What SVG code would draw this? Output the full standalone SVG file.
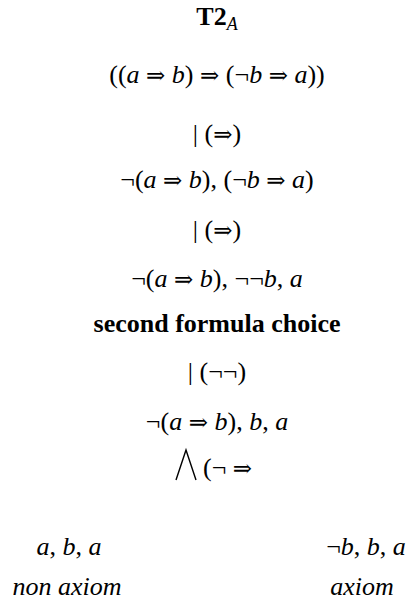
<svg xmlns="http://www.w3.org/2000/svg" width="409" height="606" viewBox="0 0 409 606">
<style>
text{font-family:"Liberation Serif","Times New Roman",serif;font-size:26px;fill:#000}
.c{text-anchor:middle}
.i{font-style:italic}
.b{font-weight:bold}
.ar{font-family:"DejaVu Serif",serif;font-size:23px}
</style>
<rect width="409" height="606" fill="#fff"/>
<g id="title"><text class="c b" x="217" y="25">T2<tspan class="i" font-weight="normal" font-size="18" dy="5">A</tspan></text></g>
<g id="n1"><text class="c" x="217" y="83">((<tspan class="i">a</tspan> <tspan class="ar">⇒</tspan> <tspan class="i">b</tspan>) <tspan class="ar">⇒</tspan> (¬<tspan class="i">b</tspan> <tspan class="ar">⇒</tspan> <tspan class="i">a</tspan>))</text></g>
<g id="connectors">
<text class="c" x="217" y="142">| (<tspan class="ar">⇒</tspan>)</text>
<text class="c" x="217" y="238">| (<tspan class="ar">⇒</tspan>)</text>
<text class="c" x="217" y="380">| (¬¬)</text>
<path d="M176,480 L186,450 L196,480" fill="none" stroke="#000" stroke-width="1.4"/>
<text x="203" y="476">(¬ <tspan class="ar">⇒</tspan></text>
</g>
<g id="n2"><text class="c" x="217" y="188">¬(<tspan class="i">a</tspan> <tspan class="ar">⇒</tspan> <tspan class="i">b</tspan>), (¬<tspan class="i">b</tspan> <tspan class="ar">⇒</tspan> <tspan class="i">a</tspan>)</text></g>
<g id="n3"><text class="c" x="217" y="287">¬(<tspan class="i">a</tspan> <tspan class="ar">⇒</tspan> <tspan class="i">b</tspan>), ¬¬<tspan class="i">b</tspan>, <tspan class="i">a</tspan></text></g>
<g id="label"><text class="c b" x="217" y="332">second formula choice</text></g>
<g id="n4"><text class="c" x="217" y="430">¬(<tspan class="i">a</tspan> <tspan class="ar">⇒</tspan> <tspan class="i">b</tspan>), <tspan class="i">b</tspan>, <tspan class="i">a</tspan></text></g>
<g id="n5"><text class="c" x="69" y="555"><tspan class="i">a</tspan>, <tspan class="i">b</tspan>, <tspan class="i">a</tspan></text>
<text class="c i" x="67" y="595">non axiom</text></g>
<g id="n6"><text class="c" x="366" y="555">¬<tspan class="i">b</tspan>, <tspan class="i">b</tspan>, <tspan class="i">a</tspan></text>
<text class="c i" x="362" y="595">axiom</text></g>
</svg>
